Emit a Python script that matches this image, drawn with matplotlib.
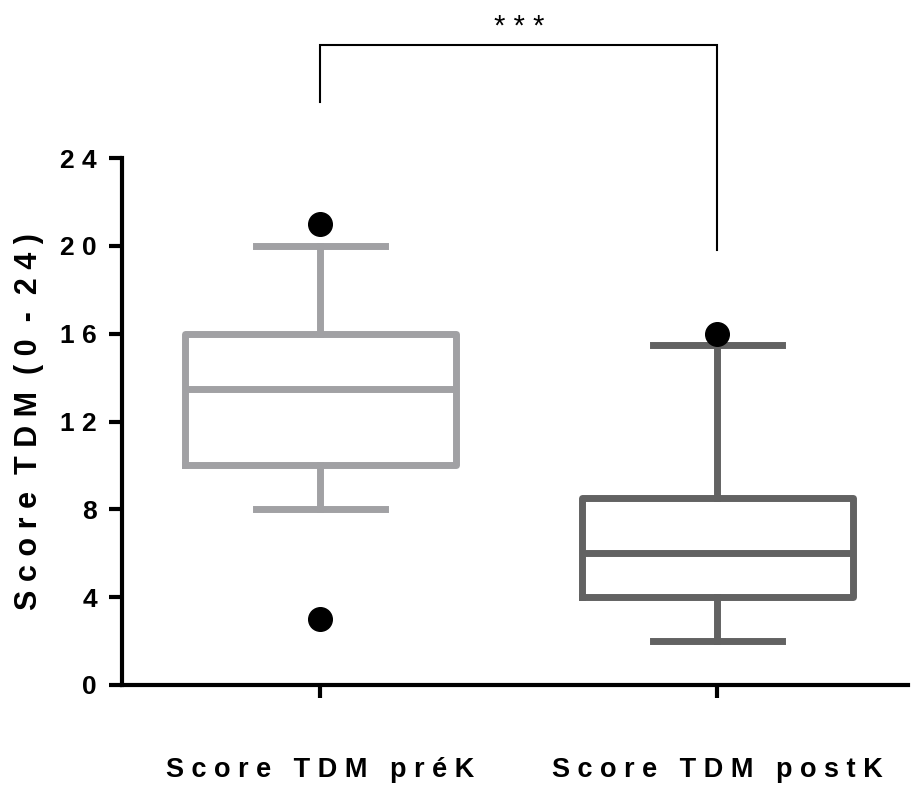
import matplotlib
matplotlib.use("Agg")
import matplotlib.pyplot as plt

# Data
categories = ["Score TDM préK", "Score TDM postK"]
q1 = [10, 4]
median = [13.5, 6]
q3 = [16, 8.5]
whisker_low = [8, 2]
whisker_high = [20, 15.5]
outliers = [[21, 3], [16]]
box_colors = ["#a1a1a4", "#626262"]
yticks = [0, 4, 8, 12, 16, 20, 24]
signif = "***"

plt.rcParams['font.family'] = ['Liberation Sans', 'DejaVu Sans']

def spaced(s, gap=2):
    return " ".join(list(s)).replace("   ", " " * gap)

fig = plt.figure(figsize=(9.11, 7.85), dpi=100)
ax = fig.add_axes([122/911, 1-685/785, (908-122)/911, (685-158)/785])

positions = list(range(len(categories)))
for i in positions:
    st = dict(med=median[i], q1=q1[i], q3=q3[i], whislo=whisker_low[i],
              whishi=whisker_high[i], fliers=outliers[i])
    c = box_colors[i]
    ax.bxp([st], positions=[i], widths=0.683, capwidths=0.325, showfliers=True,
           boxprops=dict(color=c, linewidth=5),
           medianprops=dict(color=c, linewidth=5, solid_capstyle='butt'),
           whiskerprops=dict(color=c, linewidth=5),
           capprops=dict(color=c, linewidth=5),
           flierprops=dict(marker='o', markerfacecolor='black', markeredgecolor='black',
                           markersize=17))

ax.set_xlim(-0.5, 1.48)
ax.set_ylim(0, 24)
ax.set_yticks(yticks)
ax.set_yticklabels([spaced(str(t)) for t in yticks], fontsize=19, fontweight='bold')
ax.set_xticks(positions)
ax.set_xticklabels([spaced(c, 3) for c in categories], fontsize=19.5, fontweight='bold')

for s in ['top', 'right']:
    ax.spines[s].set_visible(False)
for s in ['left', 'bottom']:
    ax.spines[s].set_linewidth(3)
ax.tick_params(axis='y', length=9.5, width=3, pad=8.5)
ax.tick_params(axis='x', length=9.5, width=3, pad=42)

ax.set_ylabel(spaced("Score TDM (0 - 24)"), fontsize=22, fontweight='bold')
ax.yaxis.set_label_coords(-0.099, 0.5)

# significance bracket
ax.plot([0, 0, 1, 1], [26.55, 29.14, 29.14, 19.81], color='black', linewidth=1.5,
        clip_on=False, solid_joinstyle='miter')
ax.text(0.5, 29.35, " ".join(signif), ha='center', va='bottom', fontsize=21, clip_on=False)

fig.savefig("out.png", dpi=100)
